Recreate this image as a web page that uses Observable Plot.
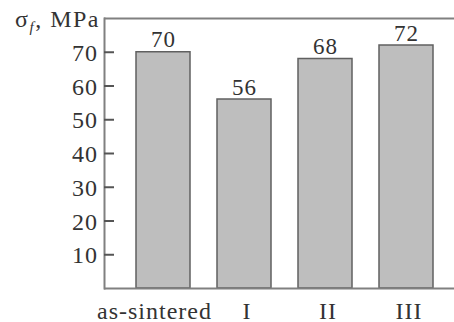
<!DOCTYPE html>
<html><head><meta charset="utf-8">
<script src="https://cdn.jsdelivr.net/npm/d3@7"></script>
<script src="https://cdn.jsdelivr.net/npm/@observablehq/plot@0.6"></script>
<style>
body{margin:0;background:#fff}
</style>
</head><body><div id="chart"></div>
<script>
const categories = ["as-sintered", "I", "II", "III"];
const values = [70, 56, 68, 72];
const yTicks = [10, 20, 30, 40, 50, 60, 70];
const yDomain = [0, 80];
const yLabelMain = "σ";
const yLabelSub = "f";
const yLabelUnit = ", MPa";
const serif = "Liberation Serif, Times New Roman, serif";

const data = categories.map((c, i) => ({category: c, value: values[i]}));

const chart = Plot.plot({
  width: 454, height: 322,
  marginLeft: 104, marginRight: 0, marginTop: 18, marginBottom: 34,
  style: {fontFamily: serif, fontSize: "24px", letterSpacing: "1px", color: "#333", background: "#fff", overflow: "visible"},
  x: {domain: categories, paddingInner: 0.336, paddingOuter: 0.32, align: 0.6, label: null},
  y: {domain: yDomain, label: null},
  marks: [
    Plot.barY(data, {x: "category", y: "value", fill: "#bebebe", stroke: "#606060", strokeWidth: 1.5}),
    Plot.ruleY(yDomain, {stroke: "#808080", strokeWidth: 2}),
    Plot.frame({anchor: "left", stroke: "#808080", strokeWidth: 2}),
    Plot.ruleY(yTicks, {insetRight: 340, stroke: "#555", strokeWidth: 2}),
    Plot.axisY(yTicks, {anchor: "left", tickSize: 0, tickPadding: 6.5, fill: "#333", dy: 1, label: null}),
    Plot.axisX(categories.slice(0, 1), {tickSize: 0, tickPadding: 13, dx: -9, fill: "#333", label: null}),
    Plot.axisX(categories.slice(1), {tickSize: 0, tickPadding: 13, dx: 2.5, fill: "#333", label: null}),
    Plot.text(data, {x: "category", y: "value", text: d => String(d.value), lineAnchor: "bottom", dy: -5, fill: "#333", fontSize: 23})
  ]
});
document.getElementById("chart").appendChild(chart);

const svg = d3.select(chart);
const t = svg.append("text")
  .attr("x", 100).attr("y", 27)
  .attr("text-anchor", "end")
  .attr("fill", "#333")
  .attr("font-family", serif)
  .style("font-size", "24px")
  .style("letter-spacing", "1.5px");
t.append("tspan").text(yLabelMain);
t.append("tspan").attr("dy", 5).attr("font-style", "italic").style("font-size", "15px").text(yLabelSub);
t.append("tspan").attr("dy", -5).text(yLabelUnit);
</script>
</body></html>
